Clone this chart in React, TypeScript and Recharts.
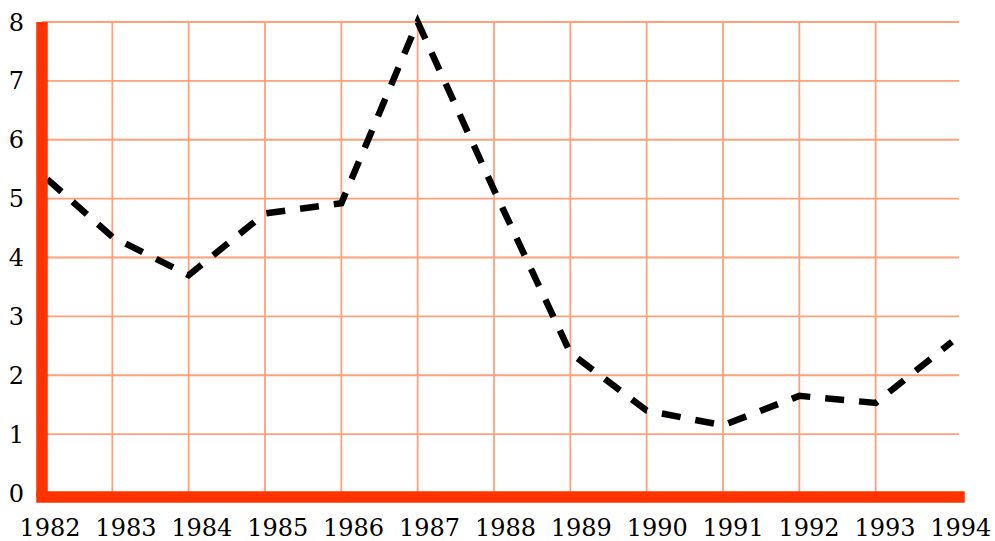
import React from 'react';
import { LineChart, Line, XAxis, YAxis, CartesianGrid, ReferenceLine } from 'recharts';

const years = ['1982', '1983', '1984', '1985', '1986', '1987', '1988', '1989', '1990', '1991', '1992', '1993', '1994'];
const values = [5.5, 4.35, 3.7, 4.75, 4.92, 8, 5.15, 2.38, 1.4, 1.15, 1.65, 1.53, 2.57];
const yTicks = [0, 1, 2, 3, 4, 5, 6, 7, 8];
const gridYears = years.slice(1, 12);

const data = years.map((year, i) => ({ year, value: values[i] }));

const FONT = '"DejaVu Serif", serif';
const RED = '#ff3300';
const GRID = '#ffa07a';

const XTick = (props: any) => {
  const { x, y, payload, index } = props;
  return (
    <text x={x + 14 - 0.43 * index} y={y} dy="0.71em" textAnchor="middle" fill="#000" fontSize={24} fontFamily={FONT}>
      {payload.value}
    </text>
  );
};

export default function App() {
  return (
    <div style={{ position: 'absolute', left: 0, top: 0, width: 995, height: 541, background: '#fff' }}>
      <LineChart width={995} height={541} data={data} margin={{ top: 22, right: 36, bottom: 14, left: 0 }}>
        <CartesianGrid stroke={GRID} strokeWidth={1.8} vertical={false} />
        {gridYears.map((y) => (
          <ReferenceLine key={y} x={y} stroke={GRID} strokeWidth={1.8} />
        ))}
        <Line
          type="linear"
          dataKey="value"
          stroke="#000"
          strokeWidth={6.5}
          strokeDasharray="19 15"
          strokeDashoffset={19}
          dot={false}
          activeDot={false}
          isAnimationActive={false}
        />
        <XAxis
          dataKey="year"
          interval={0}
          height={30}
          padding={{ left: -6, right: 7 }}
          tickSize={0}
          tickMargin={22}
          tick={<XTick />}
          axisLine={{ stroke: RED, strokeWidth: 11.5, strokeLinecap: 'square' }}
        />
        <YAxis
          type="number"
          domain={[0, 8]}
          ticks={yTicks}
          width={42}
          padding={{ top: 0, bottom: 4 }}
          tickSize={0}
          tickMargin={18}
          tick={{ fill: '#000', fontSize: 24, fontFamily: FONT }}
          axisLine={{ stroke: RED, strokeWidth: 11.5 }}
        />
        <YAxis
          yAxisId="border"
          orientation="right"
          type="number"
          domain={[0, 8]}
          ticks={yTicks}
          padding={{ top: 0, bottom: 4 }}
          width={0}
          tick={false}
          tickLine={false}
          axisLine={{ stroke: GRID, strokeWidth: 1.8 }}
        />
      </LineChart>
    </div>
  );
}
